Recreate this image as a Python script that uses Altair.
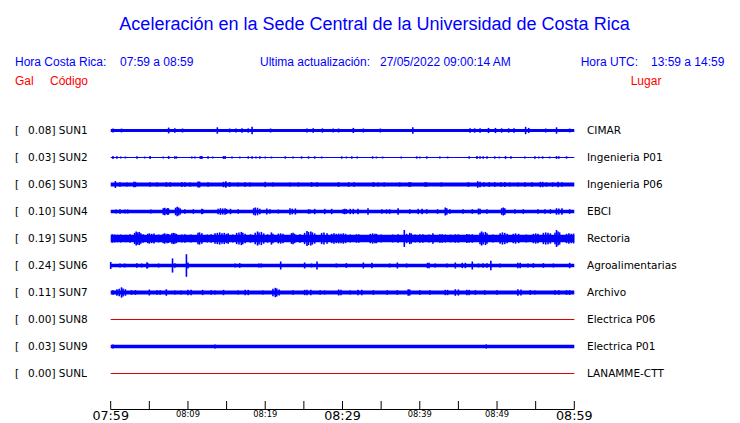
import altair as alt
import pandas as pd

TITLE = "Aceleración en la Sede Central de la Universidad de Costa Rica"
CODES = ["SUN1", "SUN2", "SUN3", "SUN4", "SUN5", "SUN6", "SUN7", "SUN8", "SUN9", "SUNL"]
GAL = [0.08, 0.03, 0.06, 0.10, 0.19, 0.24, 0.11, 0.00, 0.03, 0.00]
PLACES = ["CIMAR", "Ingenieria P01", "Ingenieria P06", "EBCI", "Rectoria",
          "Agroalimentarias", "Archivo", "Electrica P06", "Electrica P01", "LANAMME-CTT"]
# steady noise level of each trace (half amplitude, Gal)
BASE = [0.033, 0.012, 0.042, 0.038, 0.080, 0.037, 0.040, 0.0, 0.037, 0.0]

# peaks: (minute after 07:59, half amplitude in Gal)
SUN1 = [(0.3, 0.045), (1.4, 0.04), (7.5, 0.062), (8.3, 0.05), (9.3, 0.042), (13.8, 0.068),
        (15.4, 0.042), (16.2, 0.042), (17.0, 0.046), (17.8, 0.046), (18.3, 0.08), (20.7, 0.042),
        (25.4, 0.042), (26.2, 0.046), (27.4, 0.046), (28.8, 0.042), (29.5, 0.042), (31.4, 0.055),
        (32.7, 0.042), (34.9, 0.042), (39.1, 0.068), (46.5, 0.046), (47.1, 0.046), (47.8, 0.046),
        (48.9, 0.055), (49.8, 0.055), (50.6, 0.046), (51.5, 0.046), (52.2, 0.046), (53.7, 0.078),
        (54.1, 0.055), (56.3, 0.042), (57.7, 0.068), (59.4, 0.042)]
SUN2 = [(0.3, 0.03), (0.8, 0.025), (1.3, 0.02), (1.9, 0.02), (3.4, 0.025), (4.4, 0.02), (5.1, 0.03),
        (6.8, 0.02), (7.5, 0.03), (8.3, 0.025), (8.5, 0.025), (10.5, 0.02), (10.9, 0.02), (11.6, 0.03),
        (11.8, 0.03), (12.6, 0.025), (13.2, 0.02), (14.6, 0.03), (14.8, 0.03), (15.7, 0.02),
        (16.7, 0.02), (17.8, 0.025), (18.3, 0.025), (18.8, 0.02), (19.3, 0.025), (20.0, 0.02),
        (20.8, 0.02), (22.6, 0.025), (23.6, 0.02), (24.7, 0.025), (25.6, 0.025), (26.4, 0.025),
        (27.3, 0.02), (29.9, 0.025), (30.5, 0.02), (31.2, 0.025), (31.9, 0.02), (33.9, 0.025),
        (34.4, 0.02), (35.2, 0.02), (37.6, 0.02), (39.6, 0.025), (40.0, 0.02), (40.9, 0.025),
        (42.6, 0.02), (43.6, 0.02), (46.4, 0.025), (47.4, 0.03), (47.8, 0.025), (48.2, 0.025),
        (48.7, 0.025), (49.7, 0.025), (50.3, 0.02), (51.1, 0.03), (51.8, 0.025), (53.6, 0.02),
        (54.9, 0.025), (55.4, 0.02), (55.9, 0.025), (56.8, 0.02), (57.7, 0.03), (58.0, 0.025),
        (59.0, 0.025)]
SUN3 = [(0.6, 0.074), (1.2, 0.05), (2.1, 0.045), (3.0, 0.057), (3.2, 0.057), (5.1, 0.05), (6.0, 0.045),
        (7.2, 0.05), (7.7, 0.05), (9.2, 0.05), (9.6, 0.05), (10.3, 0.045), (11.3, 0.064), (11.5, 0.064),
        (12.6, 0.05), (14.6, 0.057), (14.9, 0.07), (15.4, 0.05), (16.5, 0.045), (17.4, 0.05),
        (18.0, 0.045), (20.0, 0.057), (21.0, 0.045), (23.2, 0.045), (24.3, 0.045), (26.0, 0.05),
        (26.7, 0.05), (29.5, 0.05), (30.8, 0.05), (31.5, 0.05), (34.0, 0.05), (34.6, 0.045),
        (35.4, 0.045), (37.4, 0.045), (38.6, 0.05), (38.8, 0.05), (40.7, 0.05), (40.9, 0.045),
        (42.8, 0.045), (46.3, 0.05), (47.5, 0.07), (47.8, 0.057), (48.3, 0.05), (49.0, 0.05),
        (49.7, 0.05), (50.5, 0.05), (51.0, 0.05), (51.7, 0.045), (52.7, 0.045), (53.6, 0.05),
        (54.5, 0.05), (55.6, 0.057), (55.9, 0.057), (56.4, 0.045), (57.2, 0.045), (57.9, 0.057),
        (58.4, 0.05)]
SUN4 = [(0.7, 0.043), (1.2, 0.049), (1.85, 0.043), (2.2, 0.043), (5.2, 0.043), (6.8, 0.07), (7.0, 0.08),
        (7.2, 0.06), (7.4, 0.075), (7.5, 0.06), (8.4, 0.08), (8.6, 0.1), (8.8, 0.085), (9.0, 0.065),
        (9.6, 0.049), (10.7, 0.049), (11.8, 0.057), (11.9, 0.05), (13.9, 0.06), (14.2, 0.07),
        (14.5, 0.065), (14.8, 0.07), (15.0, 0.055), (15.5, 0.057), (16.5, 0.049), (18.5, 0.07),
        (18.7, 0.085), (19.0, 0.08), (19.3, 0.06), (20.2, 0.064), (20.6, 0.049), (21.7, 0.043),
        (23.2, 0.07), (23.5, 0.06), (23.9, 0.065), (25.6, 0.049), (25.8, 0.045), (26.4, 0.057),
        (27.7, 0.057), (28.6, 0.057), (30.1, 0.049), (30.3, 0.057), (30.5, 0.05), (31.0, 0.057),
        (31.4, 0.057), (32.0, 0.057), (33.3, 0.07), (35.1, 0.049), (35.7, 0.045), (36.1, 0.049),
        (37.2, 0.07), (38.7, 0.049), (39.8, 0.057), (40.3, 0.057), (40.9, 0.049), (42.3, 0.049),
        (43.3, 0.085), (43.5, 0.07), (43.9, 0.049), (45.6, 0.049), (46.8, 0.049), (47.6, 0.064),
        (47.8, 0.06), (48.7, 0.049), (50.6, 0.07), (50.8, 0.085), (51.0, 0.07), (52.3, 0.049),
        (53.4, 0.049), (55.3, 0.049), (56.2, 0.049), (56.9, 0.049), (57.7, 0.07), (58.0, 0.065),
        (58.4, 0.07), (59.4, 0.049)]
SUN5 = [(0.2, 0.09), (0.5, 0.085), (0.9, 0.08), (1.3, 0.085), (2.0, 0.08), (2.5, 0.09), (3.1, 0.12),
        (3.3, 0.15), (3.5, 0.13), (3.7, 0.14), (3.9, 0.11), (4.2, 0.09), (4.8, 0.1), (5.0, 0.11),
        (5.3, 0.1), (5.6, 0.105), (6.2, 0.085), (6.8, 0.1), (7.0, 0.11), (7.3, 0.1), (7.5, 0.095),
        (7.9, 0.11), (8.1, 0.12), (8.3, 0.11), (8.5, 0.1), (9.2, 0.085), (9.6, 0.09), (10.4, 0.085),
        (11.3, 0.12), (11.5, 0.13), (11.8, 0.11), (12.5, 0.085), (13.0, 0.09), (13.5, 0.11),
        (13.8, 0.12), (14.1, 0.13), (14.4, 0.11), (14.7, 0.12), (15.0, 0.1), (15.2, 0.11),
        (15.8, 0.085), (16.3, 0.12), (16.6, 0.13), (16.9, 0.14), (17.1, 0.12), (17.4, 0.1),
        (18.1, 0.09), (18.7, 0.12), (19.0, 0.15), (19.2, 0.13), (19.5, 0.14), (19.8, 0.11),
        (20.3, 0.09), (20.8, 0.13), (21.0, 0.1), (21.7, 0.105), (22.0, 0.11), (22.3, 0.1),
        (23.4, 0.115), (23.6, 0.12), (23.8, 0.1), (24.5, 0.09), (25.1, 0.12), (25.4, 0.16),
        (25.6, 0.14), (25.9, 0.15), (26.1, 0.13), (26.4, 0.11), (27.3, 0.12), (27.6, 0.13),
        (28.0, 0.11), (28.6, 0.1), (28.9, 0.11), (29.2, 0.1), (29.5, 0.105), (29.8, 0.1),
        (30.1, 0.11), (30.4, 0.1), (31.0, 0.085), (31.8, 0.09), (32.1, 0.09), (33.6, 0.1),
        (33.9, 0.11), (34.2, 0.1), (34.4, 0.1), (35.0, 0.085), (36.5, 0.085), (37.2, 0.09),
        (38.0, 0.18), (38.3, 0.1), (38.7, 0.12), (38.9, 0.11), (39.4, 0.085), (40.0, 0.09),
        (40.4, 0.09), (41.2, 0.085), (41.7, 0.11), (42.6, 0.09), (42.9, 0.09), (43.3, 0.085),
        (44.0, 0.085), (44.6, 0.09), (45.0, 0.09), (46.1, 0.095), (46.4, 0.09), (46.8, 0.09),
        (47.8, 0.12), (48.0, 0.15), (48.2, 0.13), (48.5, 0.14), (48.7, 0.11), (49.5, 0.085),
        (50.4, 0.11), (50.7, 0.13), (51.0, 0.12), (51.3, 0.1), (52.1, 0.1), (52.4, 0.11),
        (52.8, 0.1), (53.8, 0.085), (54.7, 0.1), (55.0, 0.11), (55.3, 0.1), (56.0, 0.12),
        (56.3, 0.13), (56.6, 0.12), (56.9, 0.11), (57.5, 0.12), (57.7, 0.18), (57.9, 0.15),
        (58.1, 0.13), (59.0, 0.1), (59.3, 0.11), (59.6, 0.1), (59.9, 0.105)]
SUN6 = [(0.0, 0.075), (1.2, 0.043), (1.8, 0.043), (3.4, 0.05), (4.0, 0.043), (4.7, 0.07), (4.8, 0.05),
        (6.2, 0.043), (8.0, 0.15), (8.3, 0.05), (9.8, 0.24), (10.0, 0.064), (16.1, 0.043), (16.7, 0.05),
        (19.2, 0.043), (19.5, 0.043), (22.0, 0.085), (25.1, 0.064), (26.0, 0.043), (26.7, 0.085),
        (29.2, 0.043), (30.5, 0.05), (32.7, 0.064), (33.8, 0.057), (36.1, 0.043), (37.1, 0.064),
        (38.3, 0.043), (41.0, 0.057), (41.2, 0.057), (42.0, 0.043), (43.5, 0.043), (44.6, 0.064),
        (45.5, 0.057), (45.9, 0.057), (46.8, 0.085), (47.6, 0.043), (48.2, 0.05), (48.7, 0.05),
        (49.2, 0.1), (50.4, 0.043), (52.7, 0.057), (53.0, 0.057), (54.0, 0.043), (54.7, 0.05),
        (56.0, 0.05), (57.3, 0.043), (59.4, 0.057)]
SUN7 = [(0.3, 0.05), (0.8, 0.07), (1.1, 0.08), (1.4, 0.11), (1.6, 0.085), (1.9, 0.07), (2.7, 0.05),
        (3.2, 0.05), (5.0, 0.064), (6.0, 0.05), (6.4, 0.05), (7.2, 0.07), (8.3, 0.043), (9.1, 0.043),
        (10.0, 0.057), (10.4, 0.057), (11.9, 0.057), (13.0, 0.05), (13.5, 0.043), (14.6, 0.057),
        (16.5, 0.043), (17.4, 0.057), (17.8, 0.057), (19.7, 0.043), (21.0, 0.08), (21.3, 0.1),
        (21.5, 0.085), (21.8, 0.065), (23.6, 0.05), (25.1, 0.057), (25.4, 0.057), (25.9, 0.057),
        (27.1, 0.05), (27.7, 0.043), (29.5, 0.064), (29.8, 0.06), (31.0, 0.043), (32.0, 0.057),
        (32.5, 0.057), (34.0, 0.05), (35.8, 0.05), (37.1, 0.05), (38.5, 0.07), (38.7, 0.065),
        (40.0, 0.05), (41.3, 0.05), (43.3, 0.057), (43.6, 0.057), (44.6, 0.07), (45.0, 0.065),
        (46.1, 0.057), (46.4, 0.057), (47.2, 0.05), (48.4, 0.05), (50.0, 0.05), (52.7, 0.07),
        (53.1, 0.065), (54.3, 0.05), (54.9, 0.043), (57.5, 0.05), (58.0, 0.05), (59.0, 0.05),
        (59.4, 0.05)]
SUN8 = []
SUN9 = [(0.3, 0.045), (13.5, 0.04), (48.6, 0.045)]
SUNL = []
PEAKS = [SUN1, SUN2, SUN3, SUN4, SUN5, SUN6, SUN7, SUN8, SUN9, SUNL]

TICK_MIN = [0, 5, 10, 15, 20, 25, 30, 35, 40, 45, 50, 55, 60]
MAJOR_MIN = [0, 30, 60]
MAJOR_LBL = ["07:59", "08:29", "08:59"]
MINOR_MIN = [10, 20, 40, 50]
MINOR_LBL = ["08:09", "08:19", "08:39", "08:49"]

BLUE = "#0000ff"
RED = "#ff0000"
ROW_GAL = 27 / 47  # Gal equivalent of the spacing between traces

xs = alt.Scale(domain=[0, 60], range=[102.7, 566.3], nice=False, zero=False)
ys = alt.Scale(domain=[0, 9], range=[122.5, 365.5], nice=False, zero=False)

rows = pd.DataFrame({
    "row": list(range(len(CODES))),
    "lead": ["["] * len(CODES),
    "label": [f"{g:.2f}] {c}" for g, c in zip(GAL, CODES)],
    "place": PLACES,
    "base": BASE,
    "t0": [0] * len(CODES),
    "t1": [60] * len(CODES),
})
rows["lo"] = rows["row"] - rows["base"] / ROW_GAL
rows["hi"] = rows["row"] + rows["base"] / ROW_GAL

recs = []
for i, pk in enumerate(PEAKS):
    for t, a in pk:
        recs.append({"row": i, "t": t, "lo": i - a / ROW_GAL, "hi": i + a / ROW_GAL})
spikes = pd.DataFrame(recs)

flat = rows[rows["base"] == 0]

band = alt.Chart(rows[rows["base"] > 0]).mark_rect(color=BLUE).encode(
    x=alt.X("t0:Q", scale=xs, axis=None), x2="t1:Q",
    y=alt.Y("lo:Q", scale=ys, axis=None), y2="hi:Q")
zero = alt.Chart(flat).mark_rule(color="#dd0000", strokeWidth=1).encode(
    x=alt.X("t0:Q", scale=xs, axis=None), x2="t1:Q",
    y=alt.Y("row:Q", scale=ys, axis=None))
peaks = alt.Chart(spikes).mark_rule(color=BLUE, strokeWidth=1.6).encode(
    x=alt.X("t:Q", scale=xs, axis=None),
    y=alt.Y("lo:Q", scale=ys, axis=None), y2="hi:Q")

lead = alt.Chart(rows).mark_text(align="left", baseline="middle", font="DejaVu Sans",
                                 fontSize=10.5, color="black").encode(
    x=alt.value(7), y=alt.Y("row:Q", scale=ys, axis=None), text="lead:N")
left = alt.Chart(rows).mark_text(align="left", baseline="middle", font="DejaVu Sans",
                                 fontSize=10.5, color="black").encode(
    x=alt.value(20), y=alt.Y("row:Q", scale=ys, axis=None), text="label:N")
right = alt.Chart(rows).mark_text(align="left", baseline="middle", font="DejaVu Sans",
                                  fontSize=10.5, color="black").encode(
    x=alt.value(579), y=alt.Y("row:Q", scale=ys, axis=None), text="place:N")

axis_df = pd.DataFrame({"t0": [0], "t1": [60]})
axis_line = alt.Chart(axis_df).mark_rule(color="black", strokeWidth=1).encode(
    x=alt.X("t0:Q", scale=xs, axis=None), x2="t1:Q", y=alt.value(401.5))
ticks = alt.Chart(pd.DataFrame({"t": TICK_MIN})).mark_rule(color="black", strokeWidth=1).encode(
    x=alt.X("t:Q", scale=xs, axis=None), y=alt.value(393), y2=alt.value(401.5))
major = alt.Chart(pd.DataFrame({"t": MAJOR_MIN, "lbl": MAJOR_LBL})).mark_text(
    align="center", baseline="alphabetic", font="DejaVu Sans", fontSize=12.7, color="black").encode(
    x=alt.X("t:Q", scale=xs, axis=None), y=alt.value(411.5), text="lbl:N")
minor = alt.Chart(pd.DataFrame({"t": MINOR_MIN, "lbl": MINOR_LBL})).mark_text(
    align="center", baseline="alphabetic", font="DejaVu Sans", fontSize=8.3, color="black").encode(
    x=alt.X("t:Q", scale=xs, axis=None), y=alt.value(409), text="lbl:N")


def label(text, x, y, size, color, align="left"):
    return alt.Chart(alt.Data(values=[{"k": 1}])).mark_text(
        align=align, baseline="alphabetic", font="Liberation Sans", fontSize=size, color=color
    ).encode(x=alt.value(x), y=alt.value(y), text=alt.value(text))


header = [
    label(TITLE, 366.5, 22, 18, BLUE, "center"),
    label("Hora Costa Rica:", 7, 58, 12, BLUE),
    label("07:59 a 08:59", 112, 58, 12, BLUE),
    label("Ultima actualización:", 252, 58, 12, BLUE),
    label("27/05/2022 09:00:14 AM", 372, 58, 12, BLUE),
    label("Hora UTC:", 572.7, 58, 12, BLUE),
    label("13:59 a 14:59", 643, 58, 12, BLUE),
    label("Gal", 7, 77, 12, RED),
    label("Código", 42, 77, 12, RED),
    label("Lugar", 622.7, 77, 12, RED),
]

chart = alt.layer(
    zero, band, peaks, lead, left, right, axis_line, ticks, major, minor, *header
).properties(
    width=724, height=415, autosize=alt.AutoSizeParams(type="none"), padding=0,
    background="white"
).configure_view(strokeWidth=0)

chart.save("out.html", embed_options={"renderer": "svg", "actions": False})
